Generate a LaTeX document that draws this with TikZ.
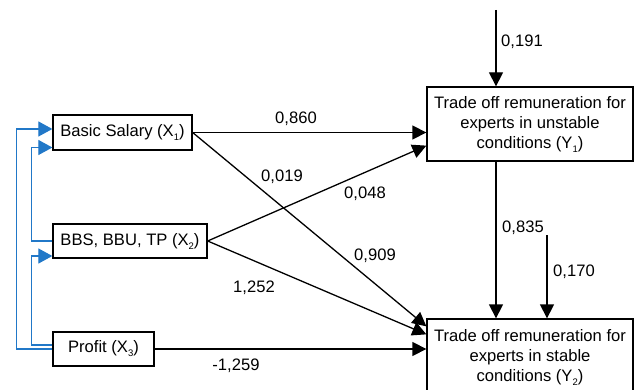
\documentclass[tikz,border=0pt]{standalone}
\usepackage{fontspec}
\setmainfont{Liberation Sans}
\usetikzlibrary{arrows.meta}
\definecolor{linkblue}{RGB}{33,120,200}
\newcommand{\sbs}[1]{{\fontsize{9.5}{10}\selectfont\raisebox{-4pt}{#1}}}
\begin{document}
\begin{tikzpicture}[x=1pt,y=-1pt,
  font=\fontsize{16.6}{20}\selectfont,
  box/.style={draw,line width=1.3pt,inner sep=0pt,align=center},
  arr/.style={line width=1.3pt,-{Triangle[length=14pt,width=14pt]}},
  barr/.style={line width=1.2pt,color=linkblue,-{Triangle[length=14pt,width=15pt]}},
  lbl/.style={inner sep=0pt}]
\useasboundingbox (0,0) rectangle (634,390);
% boxes
\node[box,minimum width=139pt,minimum height=35pt] (X1) at (122.5,132.5) {Basic Salary (X\sbs{1})};
\node[box,minimum width=154pt,minimum height=34pt] (X2) at (130,241) {BBS, BBU, TP (X\sbs{2})};
\node[box,minimum width=101pt,minimum height=34pt] (X3) at (103.5,349) {Profit (X\sbs{3})};
\node[box,minimum width=206pt,minimum height=74pt] (Y1) at (530,124) {Trade off remuneration for\\experts in unstable\\conditions (Y\sbs{1})};
\node[box,minimum width=206pt,minimum height=76pt] (Y2) at (530,357) {Trade off remuneration for\\experts in stable\\conditions (Y\sbs{2})};
% free ends
\coordinate (t1) at (496,10);
\coordinate (t2) at (547,235);
% black arrows
\draw[arr] (X1.east) -- (X1.east -| Y1.west);
\draw[arr] (X1.east) -- ([yshift=-8pt]Y2.north west);
\draw[arr] (X2.east) -- ([yshift=16pt]Y1.south west);
\draw[arr] (X2.east) -- ([yshift=-16pt]Y2.north west);
\draw[arr] (X3.east) -- (X3.east -| Y2.west);
\draw[arr] (t1) -- (t1 |- Y1.north);
\draw[arr] (t1 |- Y1.south) -- (t1 |- Y2.north);
\draw[arr] (t2) -- (t2 |- Y2.north);
% blue arrows
\draw[barr] (X3.west) -- ++(-36,0) |- ([yshift=3.5pt]X1.west);
\draw[barr] (X2.west) -- ++(-21,0) |- ([yshift=-15pt]X1.west);
\draw[barr] ([yshift=4pt]X3.west) -- ++(-21,0) |- ([yshift=-15pt]X2.west);
% labels
\node[lbl] (l1) at (296,119) {0,860};
\node[lbl] (l2) at (282,177) {0,019};
\node[lbl] (l3) at (365,194) {0,048};
\node[lbl] (l4) at (375,256) {0,909};
\node[lbl] (l5) at (254,288) {1,252};
\node[lbl] (l6) at (236,366) {-1,259};
\node[lbl] (l7) at (522,42) {0,191};
\node[lbl] (l8) at (523,228) {0,835};
\node[lbl] (l9) at (574,272) {0,170};
\end{tikzpicture}
\end{document}
